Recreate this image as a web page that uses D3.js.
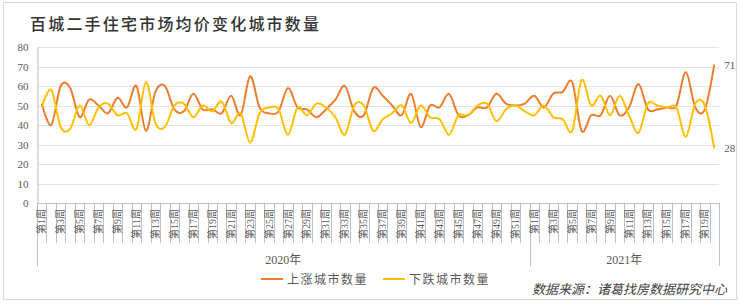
<!DOCTYPE html>
<html>
<head>
<meta charset="utf-8">
<script src="https://d3js.org/d3.v7.min.js"></script>
<style>
  body { margin: 0; background: #fff; }
  text { font-family: "Liberation Serif", "Noto Sans CJK SC", serif; }
</style>
</head>
<body>
<svg id="chart" width="740" height="307"></svg>
<script>
// ---- data ----
var years = ["2020年", "2021年"];
var weeksPerYear = [52, 20];
var upCities = [51,40,60,59,44,53,50,46,54,49, 60,37,57,60,48,47,56,48,48,46,
                55,45,65,49,46,47,59,49,48,44, 48,53,60,47,45,59,55,50,45,56,
                39,50,49,56,45,45,49,49,56,51, 50,51,55,49,56,57,62,37,45,45,
                55,45,49,61,48,48,49,50,67,49, 48,71];
var downCities = [49,58,39,38,50,40,49,51,45,46, 38,62,41,39,50,51,44,50,47,52,
                  41,46,31,46,49,48,35,49,45,51, 49,44,35,50,50,37,43,46,50,41,
                  50,44,43,35,45,45,50,51,42,48, 50,47,45,50,44,43,37,63,50,55,
                  45,55,45,36,51,50,49,49,34,51, 50,28];
var yTicks = [0,10,20,30,40,50,60,70,80];
var seriesNames = ["上涨城市数量", "下跌城市数量"];
var seriesColors = ["#ED7D31", "#FFC000"];

// category list: one entry per week
var cats = [];
years.forEach(function(y, yi) {
  for (var w = 1; w <= weeksPerYear[yi]; w++) cats.push({year: yi, week: w});
});

var svg = d3.select("#chart");
var plotLeft = 37, plotRight = 719, plotTop = 47, plotBottom = 203;

// outer frame
svg.append("rect").attr("x", 3.5).attr("y", 2.5).attr("width", 733).attr("height", 297)
   .attr("fill", "none").attr("stroke", "#d9d9d9");

svg.append("text").attr("x", 30).attr("y", 30)
   .style("font-family", "'Noto Sans CJK SC'").style("font-size", "16px")
   .style("font-weight", 500).style("letter-spacing", "2.2px").attr("fill", "#333")
   .text("百城二手住宅市场均价变化城市数量");

var x = d3.scaleBand().domain(d3.range(cats.length)).range([plotLeft, plotRight]);
var y = d3.scaleLinear().domain([0, 80]).range([plotBottom, plotTop]);

// gridlines
svg.append("g").selectAll("line").data(yTicks.slice(1)).enter().append("line")
   .attr("x1", plotLeft).attr("x2", plotRight)
   .attr("y1", function(d) { return Math.round(y(d)) + 0.5; })
   .attr("y2", function(d) { return Math.round(y(d)) + 0.5; })
   .attr("stroke", "#e3e3e3");

// y axis
var yAxis = d3.axisLeft(y).tickValues(yTicks).tickSize(0).tickPadding(9);
var gy = svg.append("g").attr("transform", "translate(" + (plotLeft + 0.5) + ",0)").call(yAxis);
gy.select(".domain").attr("stroke", "#bfbfbf");
gy.selectAll("text").style("font-size", "11px").attr("fill", "#595959")
  .style("font-family", "'Liberation Serif'");

// x axis with category boundary lines
svg.append("line").attr("x1", plotLeft).attr("x2", plotRight)
   .attr("y1", plotBottom + 0.5).attr("y2", plotBottom + 0.5).attr("stroke", "#bfbfbf");
svg.append("g").selectAll("line").data(d3.range(cats.length + 1)).enter().append("line")
   .attr("x1", function(i) { return Math.round(plotLeft + i * x.step()) + 0.5; })
   .attr("x2", function(i) { return Math.round(plotLeft + i * x.step()) + 0.5; })
   .attr("y1", plotBottom)
   .attr("y2", function(i) {
      var isGroup = i === 0 || i === cats.length || i === weeksPerYear[0];
      return isGroup ? 266 : 243;
   })
   .attr("stroke", "#bfbfbf");

svg.append("g").selectAll("text").data(cats.filter(function(c) { return c.week % 2 === 1; }))
   .enter().append("text")
   .attr("transform", function(c) {
      var i = cats.indexOf(c);
      return "translate(" + (x(i) + x.bandwidth() / 2 + 3.5) + "," + (plotBottom + 6) + ") rotate(-90)";
   })
   .attr("text-anchor", "end").style("font-size", "10px").attr("fill", "#595959")
   .text(function(c) { return "第" + c.week + "周"; });

// year labels
var start = 0;
years.forEach(function(yr, yi) {
  var x0 = x(start), x1 = x(start + weeksPerYear[yi] - 1) + x.bandwidth();
  svg.append("text").attr("x", (x0 + x1) / 2).attr("y", 264).attr("text-anchor", "middle")
     .style("font-size", "12px").attr("fill", "#595959").text(yr);
  start += weeksPerYear[yi];
});

// lines
var line = d3.line()
  .x(function(d, i) { return x(i) + x.bandwidth() / 2; })
  .y(function(d) { return y(d); })
  .curve(d3.curveCardinal.tension(0));

[upCities, downCities].forEach(function(s, si) {
  svg.append("path").datum(s).attr("d", line).attr("fill", "none")
     .attr("stroke", seriesColors[si]).attr("stroke-width", 2);
  var last = s.length - 1;
  svg.append("text").attr("x", x(last) + x.bandwidth() / 2 + 10).attr("y", y(s[last]) + 4)
     .style("font-size", "11px").attr("fill", "#595959").text(s[last]);
});

// legend
var legX = [261, 383];
seriesNames.forEach(function(n, i) {
  svg.append("line").attr("x1", legX[i]).attr("x2", legX[i] + 22).attr("y1", 279).attr("y2", 279)
     .attr("stroke", seriesColors[i]).attr("stroke-width", 2);
  svg.append("text").attr("x", legX[i] + 26).attr("y", 283.5)
     .style("font-family", "'Noto Sans CJK SC'")
     .style("font-size", "12px").style("letter-spacing", "1.5px").attr("fill", "#595959").text(n);
});

svg.append("text").attr("x", 727).attr("y", 294).attr("text-anchor", "end")
   .style("font-family", "'Noto Sans CJK SC'")
   .style("font-size", "13px").style("font-style", "italic").attr("fill", "#404040")
   .text("数据来源：诸葛找房数据研究中心");
</script>
</body>
</html>
